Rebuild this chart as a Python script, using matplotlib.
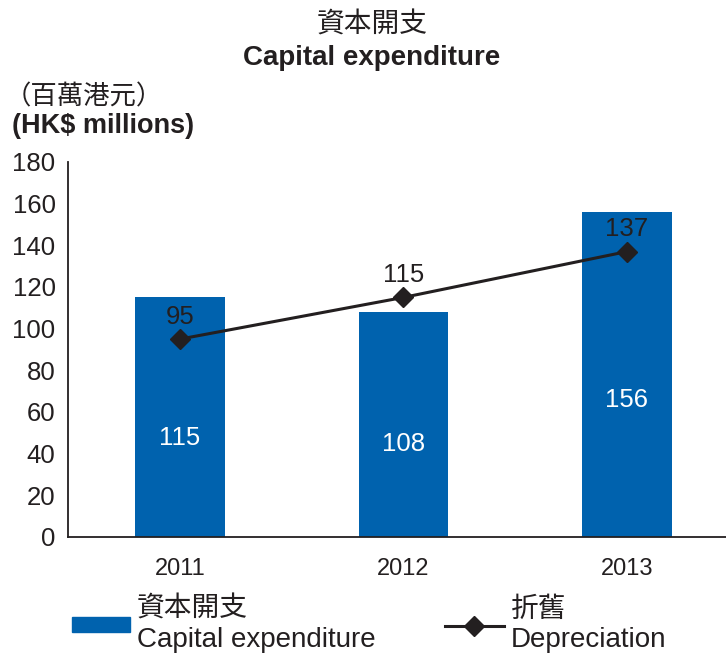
import matplotlib
matplotlib.use('Agg')
import matplotlib.pyplot as plt
from matplotlib.patches import Patch
from matplotlib.lines import Line2D

plt.rcParams['font.family'] = ['Liberation Sans', 'Noto Sans CJK TC']

years = ['2011', '2012', '2013']
capex = [115, 108, 156]
depreciation = [95, 115, 137]

blue = '#0062ae'
dark = '#231f20'

fig = plt.figure(figsize=(7.26, 6.54), dpi=100)
ax = fig.add_axes([0.0937, 0.1789, 0.9063, 0.5734])

x = range(len(years))
ax.bar(x, capex, width=0.40, color=blue, zorder=2)
ax.plot(x, depreciation, color=dark, lw=2.2, marker='D', ms=10, zorder=3)

# labels inside the bars (capex) and above the markers (depreciation)
for i, v in enumerate(capex):
    ax.text(i, v * 0.44 - 3, str(v), ha='center', va='center', color='white', fontsize=18.5)
for i, v in enumerate(depreciation):
    ax.annotate(str(v), (i, v), xytext=(0, 16), textcoords='offset points',
                ha='center', va='center', color=dark, fontsize=18.5)

ax.set_xlim(-0.501, 2.443)
ax.set_ylim(0, 180)
ax.set_yticks(range(0, 181, 20))
ax.set_xticks(list(x))
ax.set_xticklabels(years)
ax.tick_params(axis='both', length=0, colors=dark)
ax.tick_params(axis='y', labelsize=18.5, pad=9)
ax.tick_params(axis='x', labelsize=17, pad=15)
for s in ['top', 'right']:
    ax.spines[s].set_visible(False)
for s in ['left', 'bottom']:
    ax.spines[s].set_color(dark)
    ax.spines[s].set_linewidth(1.3)

fig.text(0.512, 0.963, '資本開支', ha='center', va='center', fontsize=20, color=dark,
         family=['Noto Sans CJK TC'])
fig.text(0.512, 0.912, 'Capital expenditure', ha='center', va='center', fontsize=20,
         fontweight='bold', color=dark)
fig.text(0.006, 0.852, '（百萬港元）', ha='left', va='center', fontsize=19, color=dark,
         family=['Noto Sans CJK TC'])
fig.text(0.016, 0.807, '(HK$ millions)', ha='left', va='center', fontsize=19.5,
         fontweight='bold', color=dark)

handles = [Patch(color=blue),
           Line2D([], [], color=dark, lw=2.2, marker='D', ms=10)]
labels = ['資本開支\nCapital expenditure', '折舊\nDepreciation']
fig.legend(handles, labels, loc='center left', bbox_to_anchor=(0.099, 0.045), ncol=2,
           frameon=False, fontsize=20, handlelength=2.1, handleheight=0.45,
           columnspacing=2.5, handletextpad=0.25, borderpad=0, borderaxespad=0,
           labelcolor=dark, labelspacing=0.2)

fig.savefig('out.png', dpi=100)
